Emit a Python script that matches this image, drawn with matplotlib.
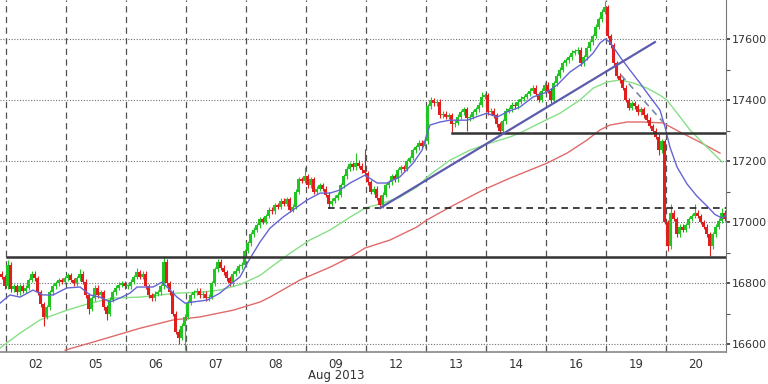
# hourly candles with moving averages and hand-drawn support / trend lines

import numpy as np
import matplotlib.pyplot as plt

# closes per trading day (20 bars per day, 2 bars left of day 01)
d01 = [16820, 16790]
d02 = [16860,16780,16790,16770,16790,16775,16785,16810,16830,16815,16770,16730,16690,16720,16770,16790,16800,16810,16805,16815]
d05 = [16825,16810,16800,16815,16830,16805,16760,16715,16750,16785,16760,16770,16720,16700,16745,16770,16785,16795,16800,16790]
d06 = [16790,16805,16820,16835,16820,16830,16790,16760,16750,16765,16770,16790,16870,16800,16770,16700,16640,16620,16660,16690]
d07 = [16735,16760,16770,16775,16760,16765,16750,16755,16800,16845,16870,16850,16835,16815,16800,16830,16840,16855,16860,16905]
d08 = [16930,16960,16975,16990,17010,17000,17020,17040,17035,17055,17050,17070,17060,17075,17040,17050,17100,17140,17135,17150]
d09 = [17120,17140,17100,17110,17120,17110,17090,17060,17070,17080,17090,17120,17150,17175,17190,17180,17195,17185,17170,17160]
d12 = [17130,17100,17110,17080,17055,17090,17120,17130,17150,17140,17170,17180,17175,17200,17210,17235,17245,17260,17250,17265]
d13 = [17380,17400,17390,17395,17350,17355,17345,17350,17320,17325,17345,17360,17370,17340,17345,17360,17370,17385,17410,17415]
d14 = [17360,17365,17350,17320,17300,17330,17365,17370,17385,17380,17395,17405,17410,17420,17430,17440,17420,17400,17430,17450]
d16 = [17430,17400,17455,17480,17500,17520,17530,17540,17555,17560,17565,17520,17540,17570,17590,17610,17640,17665,17690,17705]
d19 = [17610,17580,17520,17480,17465,17440,17400,17375,17390,17380,17360,17370,17350,17335,17315,17300,17280,17235,17265,17000]
d20 = [16920,17030,17010,16960,16985,16975,16990,17010,17020,17030,17020,17000,16985,16960,16920,16960,16985,17005,17030,17010]
first_open = 16830

# notable wick extremes (bar index: price)
high_spikes = {2: 16875, 26: 16845, 45: 16850, 54: 16890, 72: 16880, 101: 17180,
               118: 17225, 121: 17240, 141: 17280, 143: 17410, 160: 17425,
               201: 17725, 223: 17060, 231: 17060, 240: 17045}
low_spikes = {14: 16660, 29: 16700, 35: 16680, 59: 16600, 61: 16580, 109: 17045,
              126: 17045, 150: 17295, 155: 17300, 166: 17290, 183: 17390,
              219: 17220, 222: 16905, 236: 16890}

# moving averages (bar index, price)
ma_fast_x = [-0.5,2.8,6.2,10.5,13.8,17.2,21.8,26.2,29.5,32.8,36.2,39.5,42.8,45.2,50.5,53.5,55.5,58.5,61.2,63.8,
             68.5,72.8,76.2,79.5,82.2,86.2,89.5,93.8,98.5,101.8,106.2,109.5,112.8,116.2,121.2,125.2,128.5,132.8,
             137.2,140.2,142.8,146.2,149.5,155.2,161.8,165.2,168.5,172.8,177.2,181.8,185.2,189.5,193.8,197.2,
             199.5,201.2,202.8,206.2,209.5,212.8,216.2,219.5,221.2,222.8,225.2,228.5,231.8,235.2,237.8,240.2,241.5]
ma_fast_y = [16734,16761,16754,16777,16761,16761,16784,16787,16761,16754,16738,16751,16767,16787,16787,16803,16784,
             16754,16734,16738,16744,16767,16795,16820,16870,16935,16980,17016,17049,17072,17095,17095,17105,17128,
             17154,17128,17128,17148,17193,17236,17318,17328,17334,17334,17357,17344,17361,17377,17410,17426,17449,
             17492,17521,17554,17587,17600,17590,17541,17498,17456,17410,17367,17311,17246,17180,17125,17085,17052,
             17025,17013,17023]
ma_mid_x = [-0.5,6.2,12.8,21.8,29.5,37.2,46.2,52.8,58.5,66.2,72.8,79.5,86.2,89.5,96.2,102.8,109.5,116.2,121.2,
            127.2,132.8,138.5,142.8,149.5,156.2,162.8,169.5,172.8,179.5,186.2,192.8,197.2,201.8,206.2,210.5,215.2,
            219.5,221.8,225.2,229.5,233.8,237.2,240.2]
ma_mid_y = [16587,16636,16679,16711,16734,16751,16754,16761,16767,16770,16777,16795,16825,16850,16898,16941,
            16974,17016,17046,17062,17082,17115,17155,17203,17236,17259,17279,17292,17325,17357,17400,17439,17459,
            17466,17456,17439,17416,17400,17357,17302,17259,17226,17197]
ma_slow_x = [21.2,32.8,46.2,57.2,66.2,77.2,86.2,89.5,99.5,109.5,116.2,121.2,129.5,138.5,141.8,149.5,160.5,169.5,
             181.8,188.5,195.2,199.5,202.8,208.5,213.8,220.5,226.2,232.8,239.5]
ma_slow_y = [16580,16613,16652,16679,16689,16711,16738,16754,16810,16852,16885,16915,16941,16984,17007,17049,17105,
             17144,17193,17226,17269,17302,17318,17328,17328,17325,17295,17262,17226]

day_labels = ['02', '05', '06', '07', '08', '09', '12', '13', '14', '16', '19', '20']

closes = np.array(d01 + d02 + d05 + d06 + d07 + d08 + d09 + d12 + d13 + d14 + d16 + d19 + d20, dtype=float)
n = len(closes)
idx = np.arange(n)
opens = np.concatenate([[first_open], closes[:-1]])
highs = np.maximum(opens, closes) + 8
lows = np.minimum(opens, closes) - 8
for k, v in high_spikes.items():
    highs[k] = v
for k, v in low_spikes.items():
    lows[k] = v

fig = plt.figure(figsize=(7.68, 3.84), dpi=100)
ax = fig.add_axes([0.0, 32/384, 726/768, 352/384])

ymin, ymax = 16574, 17728
ax.set_xlim(-0.5, n - 0.5)
ax.set_ylim(ymin, ymax)

# grid
for v in range(16600, 17601, 200):
    ax.axhline(v, color='#707070', lw=0.8, ls=(0, (1, 1.5)), zorder=1)
seps = [1.5 + 20*k for k in range(12)]
for s in seps:
    ax.axvline(s, color='#505050', lw=0.9, ls=(0, (5, 3.5)), zorder=1)

# moving averages
ax.plot(ma_slow_x, ma_slow_y, color='#e06a6a', lw=1.0, zorder=2)
ax.plot(ma_mid_x, ma_mid_y, color='#86e086', lw=1.0, zorder=2)

# candles
up = closes >= opens
col = np.where(up, '#22c422', '#e01e1e')
ax.vlines(idx, lows, highs, colors=col, lw=0.8, zorder=3)
body_lo = np.minimum(opens, closes)
body_h = np.maximum(np.abs(closes - opens), 3)
ax.bar(idx, body_h, bottom=body_lo, width=0.72, color=col, linewidth=0, zorder=3)

ax.plot(ma_fast_x, ma_fast_y, color='#6464d4', lw=1.0, zorder=4)

# support / resistance and trend lines
ax.plot([1.8, n - 0.5], [16885, 16885], color='#333333', lw=1.8, zorder=5)
ax.plot([150.2, n - 0.5], [17292, 17292], color='#333333', lw=1.8, zorder=5)
ax.plot([108.8, n - 0.5], [17046, 17046], color='#222222', lw=1.2, ls=(0, (4, 3)), zorder=5)
ax.plot([126.2, 217.8], [17046, 17590], color='#5c5cae', lw=1.6, zorder=5)
ax.plot([206.5, 220.5], [17482, 17328], color='#7a88aa', lw=1.2, ls=(0, (4, 3)), zorder=5)

# axes styling
for sp in ['top', 'left']:
    ax.spines[sp].set_visible(False)
ax.spines['right'].set_color('#777777')
ax.spines['bottom'].set_color('#888888')
ax.spines['bottom'].set_linewidth(1.2)

ax.yaxis.tick_right()
ax.set_yticks(range(16600, 17601, 200))
ax.set_yticks(range(16700, 17601, 200), minor=True)
ax.tick_params(axis='y', which='major', direction='out', length=3, width=1.2, color='#333333',
               labelsize=8, labelcolor='#333333', pad=1)
ax.tick_params(axis='y', which='minor', direction='out', length=3, width=0.8, color='#555555')

ax.set_xticks(seps)
ax.set_xticklabels([])
ax.set_xticks([11.5 + 20*k for k in range(12)], minor=True)
ax.set_xticklabels(day_labels, minor=True)
ax.tick_params(axis='x', which='major', direction='in', length=5, color='#555555')
ax.tick_params(axis='x', which='minor', length=0, labelsize=8.5, labelcolor='#333333', pad=4)

ax.text(111.5, -0.068, 'Aug 2013', transform=ax.get_xaxis_transform(), ha='center', va='center',
        fontsize=8.5, color='#333333')

fig.savefig('out.png', dpi=100)
